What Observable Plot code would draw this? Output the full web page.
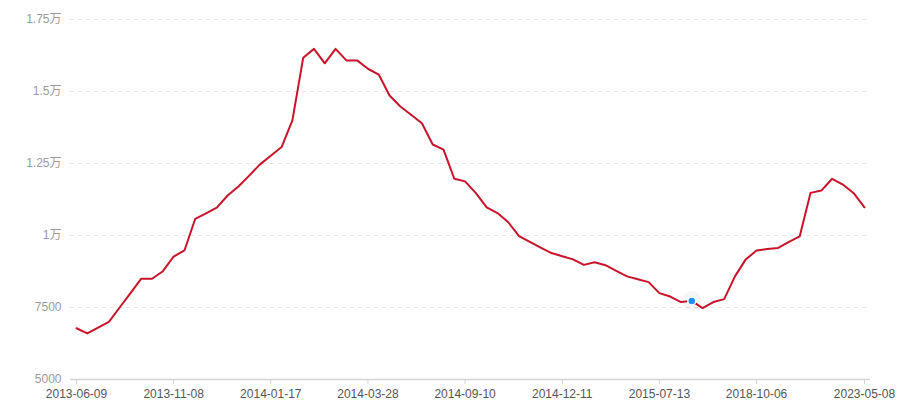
<!DOCTYPE html>
<html>
<head>
<meta charset="utf-8">
<script src="https://cdn.jsdelivr.net/npm/d3@7"></script>
<script src="https://cdn.jsdelivr.net/npm/@observablehq/plot@0.6"></script>
<style>
  html, body { margin: 0; padding: 0; background: #fff; }
  #chart { width: 900px; height: 400px; }
</style>
</head>
<body>
<div id="chart"></div>
<script>
// Values in order of the category axis (74 points)
const values = [
  6780, 6600, 6800, 7000, 7500, 8000, 8500, 8500, 8760, 9270,
  9480, 10580, 10770, 10970, 11390, 11700, 12080, 12470, 12770, 13070,
  14000, 16170, 16480, 15980, 16480, 16080, 16080, 15790, 15590, 14860,
  14480, 14190, 13900, 13160, 12980, 11970, 11880, 11470, 10980, 10780,
  10460, 9980, 9780, 9580, 9390, 9280, 9170, 8980, 9070, 8970,
  8770, 8580, 8480, 8380, 8000, 7880, 7690, 7730, 7480, 7690,
  7790, 8580, 9170, 9480, 9530, 9570, 9780, 9970, 11480, 11560,
  11970, 11770, 11470, 10980
];
// Labelled categories on the x axis (their positions among the points)
const tickIndex = [0, 9, 18, 27, 36, 45, 54, 63, 73];
const tickLabels = ["2013-06-09", "2013-11-08", "2014-01-17", "2014-03-28", "2014-09-10",
                    "2014-12-11", "2015-07-13", "2018-10-06", "2023-05-08"];
const yTicks = [5000, 7500, 10000, 12500, 15000, 17500];
const highlightIndex = 57;

const data = values.map((v, i) => ({i, v}));
const hl = data.filter(d => d.i === highlightIndex);

const fmtY = v => v >= 10000 ? (v / 10000) + "万" : String(v);
const labelOf = i => tickLabels[tickIndex.indexOf(i)];

const chart = Plot.plot({
  width: 900,
  height: 400,
  marginLeft: 70,
  marginRight: 30,
  marginTop: 19,
  marginBottom: 21,
  style: {fontFamily: "'Liberation Sans', 'Noto Sans CJK SC', sans-serif", fontSize: "12px", background: "#fff"},
  x: {domain: [-0.556, 73.556]},
  y: {domain: [5000, 17500]},
  marks: [
    Plot.gridY(yTicks.filter(t => t > 5000), {stroke: "#e6e6e6", strokeOpacity: 1, strokeDasharray: "4,4"}),
    Plot.axisY(yTicks, {tickSize: 0, tickPadding: 9, tickFormat: fmtY, fill: "#9a9a9a", label: null}),
    Plot.ruleY([5000], {stroke: "#d4d4d4", strokeWidth: 1.5}),
    Plot.axisX(tickIndex, {tickSize: 5, tickPadding: 4.5, tickFormat: labelOf, stroke: "#d4d4d4", fill: "#555", label: null}),
    Plot.line(data, {x: "i", y: "v", stroke: "#c8142a", strokeWidth: 2}),
    Plot.dot(hl, {x: "i", y: "v", r: 10, fill: "#000", fillOpacity: 0.035, stroke: "none"}),
    Plot.dot(hl, {x: "i", y: "v", r: 4, fill: "#1e90ff", stroke: "#fff", strokeWidth: 1.5})
  ]
});
document.getElementById("chart").appendChild(chart);
</script>
</body>
</html>
